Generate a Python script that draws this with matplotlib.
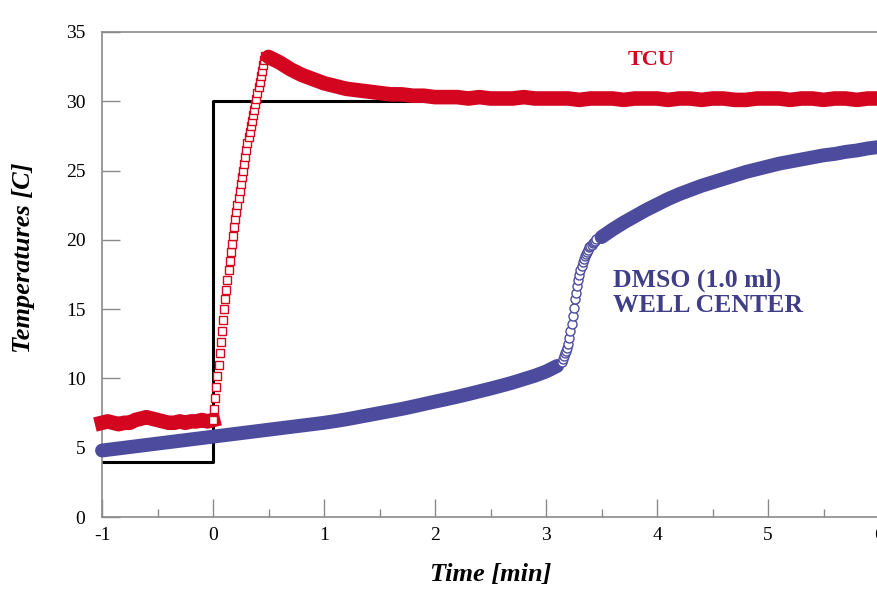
import numpy as np
import matplotlib.pyplot as plt

# set-point step (black)
set_t = [-1.0, 0.0, 0.0, 6.0]
set_T = [4.0, 4.0, 30.0, 30.0]

# TCU (red), before step
tcu_pre_t = np.arange(-1.0, 0.001, 0.05)
tcu_pre_T = [6.8, 6.9, 6.8, 6.7, 6.8, 6.8, 7.0, 7.1, 7.2, 7.1, 7.0,
             6.9, 6.8, 6.8, 6.9, 6.8, 6.9, 6.9, 7.0, 6.9, 7.0]

# TCU rise (open squares)
tcu_rise_t = np.arange(0.0, 0.475, 0.01)
tcu_rise_T = [7.0, 7.8, 8.6, 9.4, 10.2, 11.0, 11.8, 12.6, 13.4, 14.2,
              15.0, 15.7, 16.4, 17.1, 17.8, 18.5, 19.1, 19.7, 20.3, 20.9,
              21.5, 22.0, 22.5, 23.0, 23.5, 24.0, 24.5, 25.0, 25.5, 26.0,
              26.5, 27.0, 27.4, 27.8, 28.2, 28.6, 29.0, 29.4, 29.8, 30.2,
              30.6, 31.0, 31.4, 31.8, 32.2, 32.6, 33.0, 33.3]

# TCU overshoot and settle
tcu_post_t = np.arange(0.5, 6.001, 0.1)
tcu_post_T = [33.2, 32.8, 32.3, 31.9, 31.6, 31.3, 31.1, 30.9, 30.8, 30.7,
              30.6, 30.5, 30.5, 30.4, 30.4, 30.3,
              30.3, 30.3, 30.2, 30.3, 30.2, 30.2, 30.2, 30.3, 30.2, 30.2,
              30.2, 30.2, 30.1, 30.2, 30.2, 30.2, 30.1, 30.2, 30.2, 30.2,
              30.1, 30.2, 30.2, 30.1, 30.2, 30.2, 30.1, 30.1, 30.2, 30.2,
              30.2, 30.1, 30.2, 30.2, 30.1, 30.2, 30.2, 30.1, 30.2, 30.2]

# DMSO well center (blue)
dmso_pre_t = np.arange(-1.0, 3.101, 0.1)
dmso_pre_T = [4.8, 4.9, 5.0, 5.1, 5.2, 5.3, 5.4, 5.5, 5.6, 5.7,
              5.8, 5.9, 6.0, 6.1, 6.2, 6.3, 6.4, 6.5, 6.6, 6.7,
              6.8, 6.92, 7.05, 7.2, 7.35, 7.5, 7.65, 7.8, 7.97, 8.15,
              8.33, 8.5, 8.68, 8.87, 9.07, 9.27, 9.48, 9.7, 9.95, 10.2,
              10.5, 10.9]

dmso_rise_t = np.arange(3.14, 3.455, 0.01)
dmso_rise_T = [11.2, 11.4, 11.6, 11.8, 12.0, 12.2, 12.5, 12.9, 13.4, 13.9,
               14.5, 15.1, 15.7, 16.2, 16.7, 17.1, 17.5, 17.8, 18.1, 18.4,
               18.6, 18.8, 19.0, 19.15, 19.3, 19.45, 19.55, 19.65, 19.75,
               19.85, 19.95, 20.05]

dmso_post_t = np.arange(3.5, 6.001, 0.1)
dmso_post_T = [20.2, 20.75, 21.25, 21.7, 22.15, 22.55, 22.95, 23.3, 23.6,
               23.9, 24.15, 24.4, 24.65, 24.9, 25.1, 25.3, 25.5, 25.65,
               25.8, 25.95, 26.1, 26.2, 26.35, 26.45, 26.6, 26.7]

RED = '#d3051f'
BLUE = '#4c4b9e'
GRAY = '#8a8a8a'
plt.rcParams['font.family'] = ['Liberation Serif', 'DejaVu Serif']
plt.rcParams['axes.unicode_minus'] = False

fig = plt.figure(figsize=(8.78, 5.89), dpi=100)
ax = fig.add_axes([0.1162, 0.1222, 0.8850, 0.8235])

ax.plot(set_t, set_T, color='black', lw=2.2, zorder=2)

ax.plot(dmso_pre_t, dmso_pre_T, color=BLUE, lw=10, solid_capstyle='round',
        zorder=3, clip_on=False)
ax.plot(dmso_rise_t, dmso_rise_T, ls='none', marker='o', ms=6.5, mfc='white',
        mec=BLUE, mew=1.0, zorder=3)
ax.plot(dmso_post_t, dmso_post_T, color=BLUE, lw=10, solid_capstyle='round',
        zorder=3, clip_on=False)

ax.plot(tcu_pre_t, tcu_pre_T, color=RED, lw=10.5, solid_capstyle='projecting',
        zorder=4, clip_on=False)
ax.plot(tcu_rise_t, tcu_rise_T, ls='none', marker='s', ms=5.8, mfc='white',
        mec=RED, mew=1.0, zorder=4)
ax.plot(tcu_post_t, tcu_post_T, color=RED, lw=10.5, solid_capstyle='round',
        zorder=4, clip_on=False)

ax.set_xlim(-1, 6)
ax.set_ylim(0, 35)
ax.set_xticks(range(-1, 7))
ax.set_xticks(np.arange(-0.5, 6, 1.0), minor=True)
ax.set_yticks(range(0, 36, 5))
ax.tick_params(axis='both', which='major', direction='in', length=13,
               width=1.0, color=GRAY, labelsize=14, pad=7)
ax.tick_params(axis='x', which='minor', direction='in', length=6,
               width=1.0, color=GRAY)
ax.tick_params(axis='y', pad=12)
for s in ax.spines.values():
    s.set_color(GRAY)
    s.set_linewidth(1.2)

ax.set_xlabel('Time [min]', fontsize=19, fontweight='bold', style='italic',
              labelpad=14)
ax.set_ylabel('Temperatures [C]', fontsize=19, fontweight='bold',
              style='italic')
ax.yaxis.set_label_coords(-0.086, 0.535)

ax.text(3.95, 33.0, 'TCU', color=RED, fontsize=16, fontweight='bold',
        ha='center', va='center')
ax.text(3.6, 16.2, 'DMSO (1.0 ml)\nWELL CENTER', color='#3f3e86',
        fontsize=18.5, fontweight='bold', ha='left', va='center',
        linespacing=1.1)

fig.savefig('out.png', dpi=100)
